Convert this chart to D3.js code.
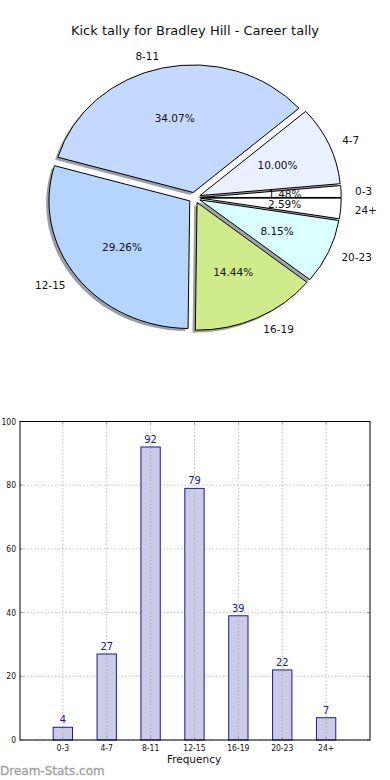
<!DOCTYPE html>
<html>
<head>
<meta charset="utf-8">
<script src="https://cdn.jsdelivr.net/npm/d3@7"></script>
<style>
  body { margin: 0; background: #fff; }
  svg { display: block; }
  text { font-family: "DejaVu Sans", sans-serif; fill: #111; }
  .cond { font-family: "DejaVu Sans Condensed", "DejaVu Sans", sans-serif; font-stretch: condensed; }
  .grid { stroke: #bdbdbd; stroke-width: 1; stroke-dasharray: 1.5,2; fill: none; }
</style>
</head>
<body>
<svg id="chart" width="390" height="780"></svg>
<script>
  // kick distances and how often each happened
  const categories = ['0-3', '4-7', '8-11', '12-15', '16-19', '20-23', '24+'];
  const counts = [4, 27, 92, 79, 39, 22, 7];
  const pieColors = ['#ffffff', '#e9f0ff', '#c4d9ff', '#b4d5ff', '#d0eb8b', '#d9ffff', '#ffffff'];
  const yTicks = [0, 20, 40, 60, 80, 100];

  const title = 'Kick tally for Bradley Hill - Career tally';
  const total = d3.sum(counts);

  const svg = d3.select('#chart');

  //// Pie (matplotlib style: ccw from 3 o'clock, elliptic axes)
  const cx = 194.5, cy = 197.7, rx = 140.8, ry = 127.6;
  const explode = 0.042;

  svg.append('text')
    .attr('x', 195)
    .attr('y', 30)
    .attr('text-anchor', 'middle')
    .attr('dominant-baseline', 'central')
    .style('font-size', '13px')
    .text(title);

  const pie = d3.pie().sort(null).value(d => d)
    .startAngle(Math.PI / 2)
    .endAngle(Math.PI / 2 - 2 * Math.PI);
  const slices = pie(counts);
  const arc = d3.arc().innerRadius(0).outerRadius(1);

  const pieG = svg.append('g')
    .attr('transform', `translate(${cx},${cy}) scale(${rx},${ry})`);

  const midOf = d => (d.startAngle + d.endAngle) / 2;

  // shadows go under every wedge
  pieG.selectAll('.shadow')
    .data(slices)
    .enter().append('path')
    .attr('class', 'shadow')
    .attr('d', arc)
    .attr('transform', d => {
      const m = midOf(d);
      return `translate(${explode * Math.sin(m) - 0.02},${-explode * Math.cos(m) + 0.02})`;
    })
    .style('fill', (d, i) => {
      const c = d3.rgb(pieColors[i]);
      return d3.rgb(c.r * 0.3, c.g * 0.3, c.b * 0.3);
    })
    .style('opacity', 0.5);

  pieG.selectAll('.wedge')
    .data(slices)
    .enter().append('path')
    .attr('class', 'wedge')
    .attr('d', arc)
    .attr('transform', d => {
      const m = midOf(d);
      return `translate(${explode * Math.sin(m)},${-explode * Math.cos(m)})`;
    })
    .style('fill', (d, i) => pieColors[i])
    .style('stroke', '#000')
    .style('stroke-width', 1)
    .attr('vector-effect', 'non-scaling-stroke');

  // outer labels
  svg.selectAll('.pieLabel')
    .data(slices)
    .enter().append('text')
    .attr('class', 'pieLabel')
    .attr('x', d => cx + rx * (explode + 1.1) * Math.sin(midOf(d)))
    .attr('y', d => cy - ry * (explode + 1.1) * Math.cos(midOf(d)))
    .attr('text-anchor', d => Math.sin(midOf(d)) > 0 ? 'start' : 'end')
    .attr('dominant-baseline', 'central')
    .style('font-size', '10.5px')
    .text((d, i) => categories[i]);

  // percentages
  svg.selectAll('.pct')
    .data(slices)
    .enter().append('text')
    .attr('class', 'pct')
    .attr('x', d => cx + rx * (explode + 0.6) * Math.sin(midOf(d)))
    .attr('y', d => cy - ry * (explode + 0.6) * Math.cos(midOf(d)))
    .attr('text-anchor', 'middle')
    .attr('dominant-baseline', 'central')
    .style('font-size', '10.5px')
    .text(d => (d.value / total * 100).toFixed(2) + '%');

  //// Bar chart
  const plotL = 20, plotR = 370, plotT = 421.5, plotB = 740;
  const x = d3.scaleLinear().domain([-0.976, 7]).range([plotL, plotR]);
  const y = d3.scaleLinear().domain([0, 100]).range([plotB, plotT]);
  const barW = 0.44;

  const barG = svg.append('g');

  // grid
  barG.selectAll('.vgrid')
    .data(categories)
    .enter().append('line')
    .attr('class', 'grid')
    .attr('x1', (d, i) => x(i)).attr('x2', (d, i) => x(i))
    .attr('y1', plotT).attr('y2', plotB);

  barG.selectAll('.hgrid')
    .data(yTicks)
    .enter().append('line')
    .attr('class', 'grid')
    .attr('x1', plotL).attr('x2', plotR)
    .attr('y1', d => y(d)).attr('y2', d => y(d));

  // bars
  barG.selectAll('.bar')
    .data(counts)
    .enter().append('rect')
    .attr('class', 'bar')
    .attr('x', (d, i) => x(i - barW / 2))
    .attr('width', x(barW) - x(0))
    .attr('y', d => y(d))
    .attr('height', d => y(0) - y(d))
    .style('fill', '#cbcbe6')
    .style('stroke', '#1a1a96')
    .style('stroke-width', 1);

  // dotted grid shows through the bars in the picture
  barG.selectAll('.vgrid2')
    .data(counts)
    .enter().append('line')
    .attr('class', 'grid')
    .style('stroke', '#a9a9c2')
    .attr('x1', (d, i) => x(i)).attr('x2', (d, i) => x(i))
    .attr('y1', d => y(d) + 1).attr('y2', plotB);

  barG.selectAll('.barLabel')
    .data(counts)
    .enter().append('text')
    .attr('class', 'barLabel cond')
    .attr('x', (d, i) => x(i))
    .attr('y', d => y(d) - 4)
    .attr('text-anchor', 'middle')
    .style('font-size', '11px')
    .style('fill', '#1a1a8c')
    .text(d => d);

  // tick marks (inside, both sides)
  const tickCol = '#9a9a9a';
  categories.forEach((c, i) => {
    barG.append('line').attr('x1', x(i)).attr('x2', x(i)).attr('y1', plotB).attr('y2', plotB - 3)
      .style('stroke', tickCol);
    barG.append('line').attr('x1', x(i)).attr('x2', x(i)).attr('y1', plotT).attr('y2', plotT + 3)
      .style('stroke', tickCol);
  });
  yTicks.forEach(t => {
    barG.append('line').attr('x1', plotL).attr('x2', plotL + 3).attr('y1', y(t)).attr('y2', y(t))
      .style('stroke', tickCol);
    barG.append('line').attr('x1', plotR).attr('x2', plotR - 3).attr('y1', y(t)).attr('y2', y(t))
      .style('stroke', tickCol);
  });

  // frame
  barG.append('rect')
    .attr('x', plotL).attr('y', plotT)
    .attr('width', plotR - plotL).attr('height', plotB - plotT)
    .style('fill', 'none')
    .style('stroke', '#000')
    .style('stroke-width', 1);

  // tick labels
  barG.selectAll('.xtick')
    .data(categories)
    .enter().append('text')
    .attr('class', 'xtick cond')
    .attr('x', (d, i) => x(i))
    .attr('y', plotB + 11)
    .attr('text-anchor', 'middle')
    .style('font-size', '8.5px')
    .text(d => d);

  barG.selectAll('.ytick')
    .data(yTicks)
    .enter().append('text')
    .attr('class', 'ytick cond')
    .attr('x', plotL - 4)
    .attr('y', d => y(d))
    .attr('text-anchor', 'end')
    .attr('dominant-baseline', 'central')
    .style('font-size', '8.5px')
    .text(d => d);

  svg.append('text')
    .attr('x', 194)
    .attr('y', 763)
    .attr('text-anchor', 'middle')
    .style('font-size', '10.5px')
    .text('Frequency');

  // watermark
  svg.append('text')
    .attr('x', 0)
    .attr('y', 775)
    .style('font-size', '12px')
    .style('fill', '#a0a0a0')
    .style('stroke', '#a0a0a0')
    .style('stroke-width', 0.3)
    .text('Dream-Stats.com');
</script>
</body>
</html>
